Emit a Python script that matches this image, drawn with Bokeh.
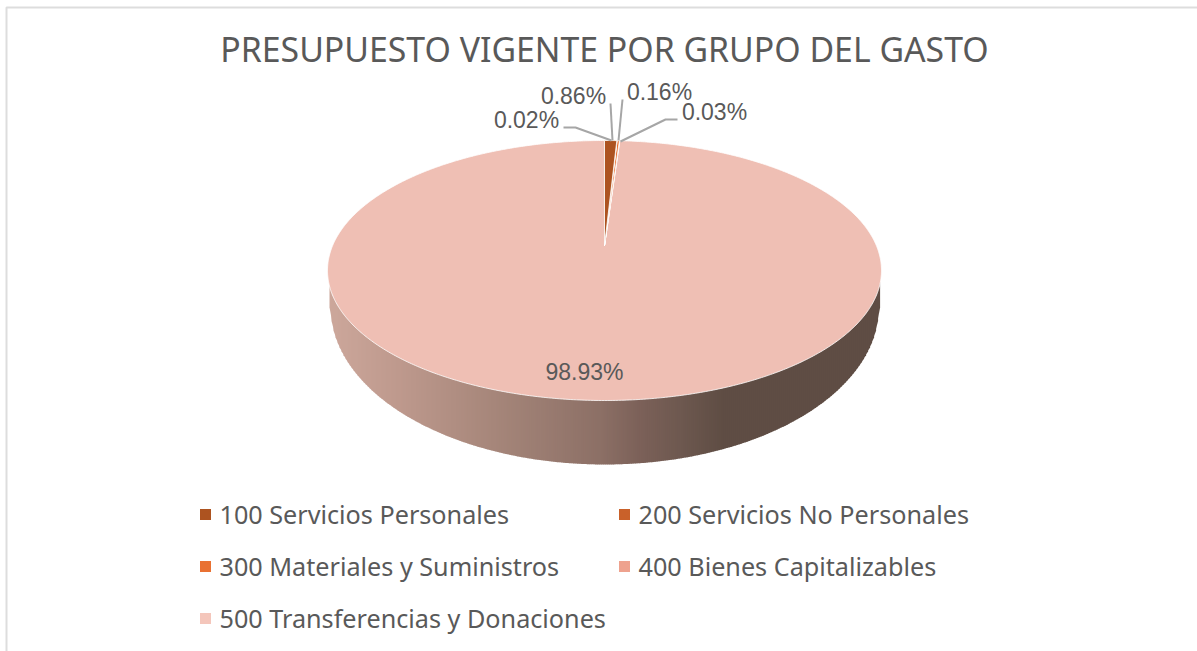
import numpy as np
from bokeh.plotting import figure
from bokeh.models import Range1d
from bokeh.core.properties import value
from bokeh.embed import file_html
from bokeh.resources import INLINE

title = "PRESUPUESTO VIGENTE POR GRUPO DEL GASTO"
categories = ["100 Servicios Personales", "200 Servicios No Personales",
              "300 Materiales y Suministros", "400 Bienes Capitalizables",
              "500 Transferencias y Donaciones"]
values = [0.86, 0.02, 0.16, 0.03, 98.93]
colors = ["#AD5320", "#C9612A", "#E97132", "#EEA28E", "#EFBFB4"]
swatch = ["#AD5320", "#C9612A", "#E97132", "#EEA28E", "#F4C6BB"]
labels = ["0.86%", "0.02%", "0.16%", "0.03%", "98.93%"]

# layout (page pixels)
CX, CY, RX, RY = 604.0, 270.0, 277.0, 130.0
APEX_Y = 245.0
DEPTH = 64.0
TEXT = "#595959"

p = figure(width=1197, height=651, output_backend="svg", toolbar_location=None,
           x_range=Range1d(0, 1197), y_range=Range1d(651, 0),
           min_border=0, outline_line_color=None, border_fill_color="white",
           background_fill_color="white")
p.axis.visible = False
p.grid.visible = False

# frame
p.line([6, 6, 1197], [651, 7, 7], line_color="#DDDDDD", line_width=2)

# side of the pie: vertical strips with the shading of the reference
grad_x = [327, 400, 470, 540, 600, 640, 680, 720, 881]
grad_c = [(205, 168, 156), (190, 153, 141), (172, 139, 127), (155, 125, 114),
          (140, 112, 102), (124, 97, 89), (110, 89, 80), (96, 78, 69), (95, 77, 68)]
edges = np.arange(CX - RX, CX + RX + 1.0, 2.0)
def top_edge(x):
    t = np.clip((x - CX) / RX, -1, 1)
    return CY + RY * np.sqrt(1 - t * t)
def bottom_edge(x):
    t = np.clip((x - CX) / (RX - 3), -1, 1)
    return (CY + DEPTH * 0.58) + (RY + DEPTH * 0.42) * np.sqrt(1 - t * t)
xs_s, ys_s, col_s = [], [], []
for a, b in zip(edges[:-1], edges[1:]):
    m = (a + b) / 2
    c = [int(np.interp(m, grad_x, [g[i] for g in grad_c])) for i in range(3)]
    if abs(m - CX) > RX - 3:
        continue
    xs_s.append([a, b + 0.6, b + 0.6, a])
    ys_s.append([top_edge(a) - 4, top_edge(b) - 4, bottom_edge(b), bottom_edge(a)])
    col_s.append("#%02X%02X%02X" % tuple(c))
p.patches(xs_s, ys_s, fill_color=col_s, line_color=None)

# top face, from the values, under the perspective that moves the pie's centre to the apex
D = (CY - APEX_Y) / RY
def rim(theta):
    u, v = np.sin(theta), np.cos(theta)
    den = 1 + D * v
    return CX + RX * u * np.sqrt(1 - D * D) / den, CY - RY * (v + D) / den

cum = np.concatenate([[0], np.cumsum(values)]) / sum(values) * 2 * np.pi
for i in [4, 3, 2, 1, 0]:
    n = max(3, int((cum[i + 1] - cum[i]) * 120))
    rx_, ry_ = rim(np.linspace(cum[i], cum[i + 1], n))
    p.patch(np.concatenate([[CX], rx_]), np.concatenate([[APEX_Y], ry_]),
            fill_color=colors[i], line_color="white", line_width=0.8)

# leader lines
leaders = [([563, 575, 611], [127, 127, 140]),
           ([610, 612], [103, 140]),
           ([622, 618], [99, 140]),
           ([677, 665, 620], [119, 119, 141])]
for lx, ly in leaders:
    p.line(lx, ly, line_color="#A6A6A6", line_width=2)

# data labels
lab_x = [573, 526, 659, 714, 584]
lab_y = [95, 119, 91, 111, 371]
p.text(lab_x, lab_y, text=labels, text_align="center", text_baseline="middle",
       text_font=value("Liberation Sans"), text_font_size="23px", text_color=TEXT)

# title
p.text([604], [48], text=[title], text_align="center", text_baseline="middle",
       text_font=value("Noto Sans"), text_font_size="33.8px", text_color=TEXT)

# legend
leg_sx = [205, 624, 205, 624, 205]
leg_tx = [219, 638, 219, 638, 219]
leg_y = [514, 514, 566, 566, 618]
p.scatter(leg_sx, leg_y, marker="square", size=11, fill_color=swatch, line_color=None)
p.text(leg_tx, [y - 1 for y in leg_y], text=categories, text_align="left", text_baseline="middle",
       text_font=value("Noto Sans"), text_font_size="25.2px", text_color=TEXT)

open("out.html", "w").write(file_html(p, INLINE))
